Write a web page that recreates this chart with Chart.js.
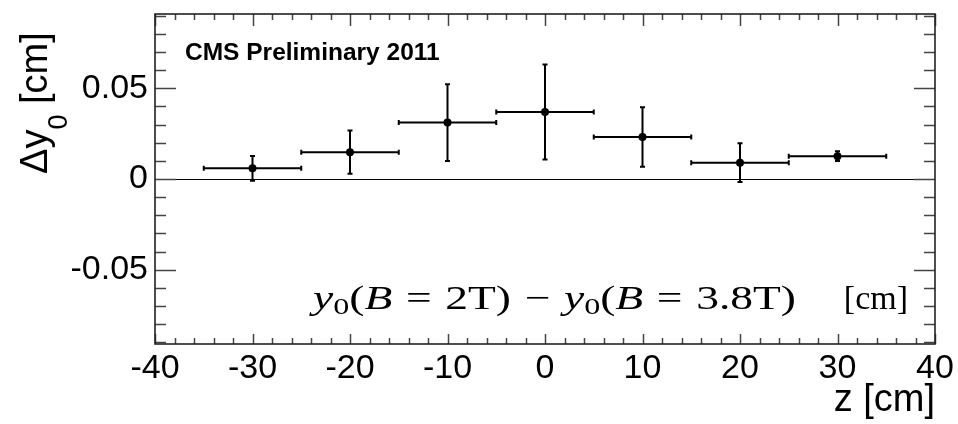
<!DOCTYPE html>
<html><head><meta charset="utf-8">
<script src="https://cdn.jsdelivr.net/npm/chart.js@4"></script>
<style>html,body{margin:0;padding:0;background:#fff;}canvas{display:block;}</style>
</head><body>
<canvas id="c" width="958" height="424"></canvas>
<script>
// ---- data ----
const zBins       = [-30, -20, -10, 0, 10, 20, 30];
const zHalfWidth  = [5, 5, 5, 5, 5, 5, 5];
const deltaY0     = [0.0059, 0.0148, 0.0311, 0.0370, 0.0232, 0.0090, 0.0126];
const deltaY0Err  = [0.0068, 0.0119, 0.0212, 0.0262, 0.0164, 0.0107, 0.0027];
const yTickValues = [-0.05, 0, 0.05];
const yTickLabels = ['-0.05', '0', '0.05'];
const xMin = -40, xMax = 40, xStep = 10, xMinorStep = 2;
const yMin = -0.091, yMax = 0.091, yMinorStep = 0.01;

const SANS = '"Liberation Sans", Arial, Helvetica, sans-serif';
const SERIF = '"Liberation Serif", "Times New Roman", serif';

const decorations = {
  id: 'decorations',
  beforeDatasetsDraw(chart) {
    const {ctx, chartArea: a, scales: {x, y}} = chart;
    ctx.save();
    // zero line
    const y0 = Math.round(y.getPixelForValue(0)) + 0.5;
    ctx.strokeStyle = '#000'; ctx.lineWidth = 1.2;
    ctx.beginPath(); ctx.moveTo(a.left, y0); ctx.lineTo(a.right, y0); ctx.stroke();
    // error bars
    ctx.strokeStyle = '#000'; ctx.lineWidth = 2;
    const cap = 2.5;
    zBins.forEach((z, i) => {
      const px = x.getPixelForValue(z);
      const pl = x.getPixelForValue(z - zHalfWidth[i]);
      const pr = x.getPixelForValue(z + zHalfWidth[i]);
      const py = y.getPixelForValue(deltaY0[i]);
      const pt = y.getPixelForValue(deltaY0[i] + deltaY0Err[i]);
      const pb = y.getPixelForValue(deltaY0[i] - deltaY0Err[i]);
      ctx.beginPath();
      ctx.moveTo(pl, py); ctx.lineTo(pr, py);
      ctx.moveTo(pl, py - cap); ctx.lineTo(pl, py + cap);
      ctx.moveTo(pr, py - cap); ctx.lineTo(pr, py + cap);
      ctx.moveTo(px, pt); ctx.lineTo(px, pb);
      ctx.moveTo(px - cap, pt); ctx.lineTo(px + cap, pt);
      ctx.moveTo(px - cap, pb); ctx.lineTo(px + cap, pb);
      ctx.stroke();
    });
    ctx.restore();
  },
  afterDraw(chart) {
    const {ctx, chartArea: a, scales: {x, y}} = chart;
    ctx.save();
    // inward tick marks
    ctx.strokeStyle = '#444'; ctx.lineWidth = 1.5;
    ctx.beginPath();
    const nx = Math.round((xMax - xMin) / xMinorStep);
    for (let k = 0; k <= nx; k++) {
      const v = xMin + k * xMinorStep;
      const major = Math.abs(v % xStep) < 1e-9;
      const p = Math.round(x.getPixelForValue(v)) + 0.5;
      ctx.moveTo(p, a.bottom); ctx.lineTo(p, a.bottom - (major ? 10 : 6));
      ctx.moveTo(p, a.top); ctx.lineTo(p, a.top + (major ? 12 : 6));
    }
    for (let k = -9; k <= 9; k++) {
      const v = k * yMinorStep;
      const major = Math.abs(k % 5) === 0;
      const p = Math.round(y.getPixelForValue(v)) + 0.5;
      ctx.moveTo(a.left, p); ctx.lineTo(a.left + (major ? 21 : 11), p);
      ctx.moveTo(a.right, p); ctx.lineTo(a.right - (major ? 21 : 11), p);
    }
    ctx.stroke();
    // frame
    ctx.strokeStyle = '#222'; ctx.lineWidth = 1.6;
    ctx.strokeRect(a.left, a.top, a.right - a.left, a.bottom - a.top);

    ctx.fillStyle = '#000';
    // CMS label
    ctx.font = 'bold 24.5px ' + SANS;
    ctx.textAlign = 'left'; ctx.textBaseline = 'alphabetic';
    ctx.fillText('CMS Preliminary 2011', 185, 60);

    // x axis title
    ctx.font = '38px ' + SANS;
    ctx.textAlign = 'right';
    ctx.fillText('z [cm]', 935, 411);

    // y axis title (rotated)
    ctx.save();
    ctx.translate(47, 174);
    ctx.rotate(-Math.PI / 2);
    ctx.textAlign = 'left';
    let cx = 0;
    ctx.font = '38px ' + SANS;
    ctx.fillText('\u0394y', cx, 0); cx += ctx.measureText('\u0394y').width;
    ctx.font = '27px ' + SANS;
    ctx.fillText('0', cx, 20); cx += ctx.measureText('0').width;
    ctx.font = '38px ' + SANS;
    ctx.fillText(' [cm]', cx, 0);
    ctx.restore();

    // formula annotation
    const fs = 34;
    const gRel = 0.3, gBin = 0.3;
    const segs = [
      {t: 'y', it: true}, {t: '0', sub: true}, {t: '('}, {t: 'B', it: true},
      {g: gRel}, {t: '='}, {g: gRel}, {t: '2T'}, {t: ')'},
      {g: gBin}, {t: '\u2212'}, {g: gBin},
      {t: 'y', it: true}, {t: '0', sub: true}, {t: '('}, {t: 'B', it: true},
      {g: gRel}, {t: '='}, {g: gRel}, {t: '3.8T'}, {t: ')'}
    ];
    const fontOf = s => (s.it ? 'italic ' : '') + (s.sub ? Math.round(fs * 0.72) : fs) + 'px ' + SERIF;
    let w = 0;
    segs.forEach(s => {
      if (s.g) { w += s.g * fs; return; }
      ctx.font = fontOf(s); w += ctx.measureText(s.t).width;
    });
    const x0 = 313, x1 = 796, base = 309;
    const sx = (x1 - x0) / w;
    ctx.save();
    ctx.translate(x0, base);
    ctx.scale(sx, 1);
    ctx.textAlign = 'left';
    let fx = 0;
    segs.forEach(s => {
      if (s.g) { fx += s.g * fs; return; }
      ctx.font = fontOf(s);
      ctx.fillText(s.t, fx, s.sub ? 5 : 0);
      fx += ctx.measureText(s.t).width;
    });
    ctx.restore();
    ctx.font = fs + 'px ' + SERIF;
    ctx.textAlign = 'right';
    ctx.fillText('[cm]', 908, base);
    ctx.restore();
  }
};

new Chart(document.getElementById('c'), {
  type: 'scatter',
  data: {
    datasets: [{
      data: zBins.map((z, i) => ({x: z, y: deltaY0[i]})),
      pointRadius: 4,
      pointBackgroundColor: '#000',
      pointBorderWidth: 0,
      showLine: false
    }]
  },
  options: {
    responsive: false,
    devicePixelRatio: 1,
    animation: false,
    layout: {padding: {top: 14, right: 23, left: 0, bottom: 0}},
    plugins: {legend: {display: false}, tooltip: {enabled: false}},
    scales: {
      x: {
        type: 'linear', min: xMin, max: xMax,
        grid: {display: false, drawTicks: false},
        border: {display: false},
        ticks: {
          stepSize: xStep, color: '#000', padding: 4,
          font: {family: SANS, size: 34},
          maxRotation: 0, autoSkip: false,
          callback: v => String(v)
        },
        afterFit(s) { s.height = 80; s.paddingLeft = 0; s.paddingRight = 0; }
      },
      y: {
        type: 'linear', min: yMin, max: yMax,
        grid: {display: false, drawTicks: false},
        border: {display: false},
        afterBuildTicks(s) { s.ticks = yTickValues.map(v => ({value: v})); },
        ticks: {
          color: '#000', padding: 7,
          font: {family: SANS, size: 34},
          callback: (v, i) => yTickLabels[i]
        },
        afterFit(s) { s.width = 155; s.paddingTop = 0; s.paddingBottom = 0; }
      }
    }
  },
  plugins: [decorations]
});
</script>
</body></html>
